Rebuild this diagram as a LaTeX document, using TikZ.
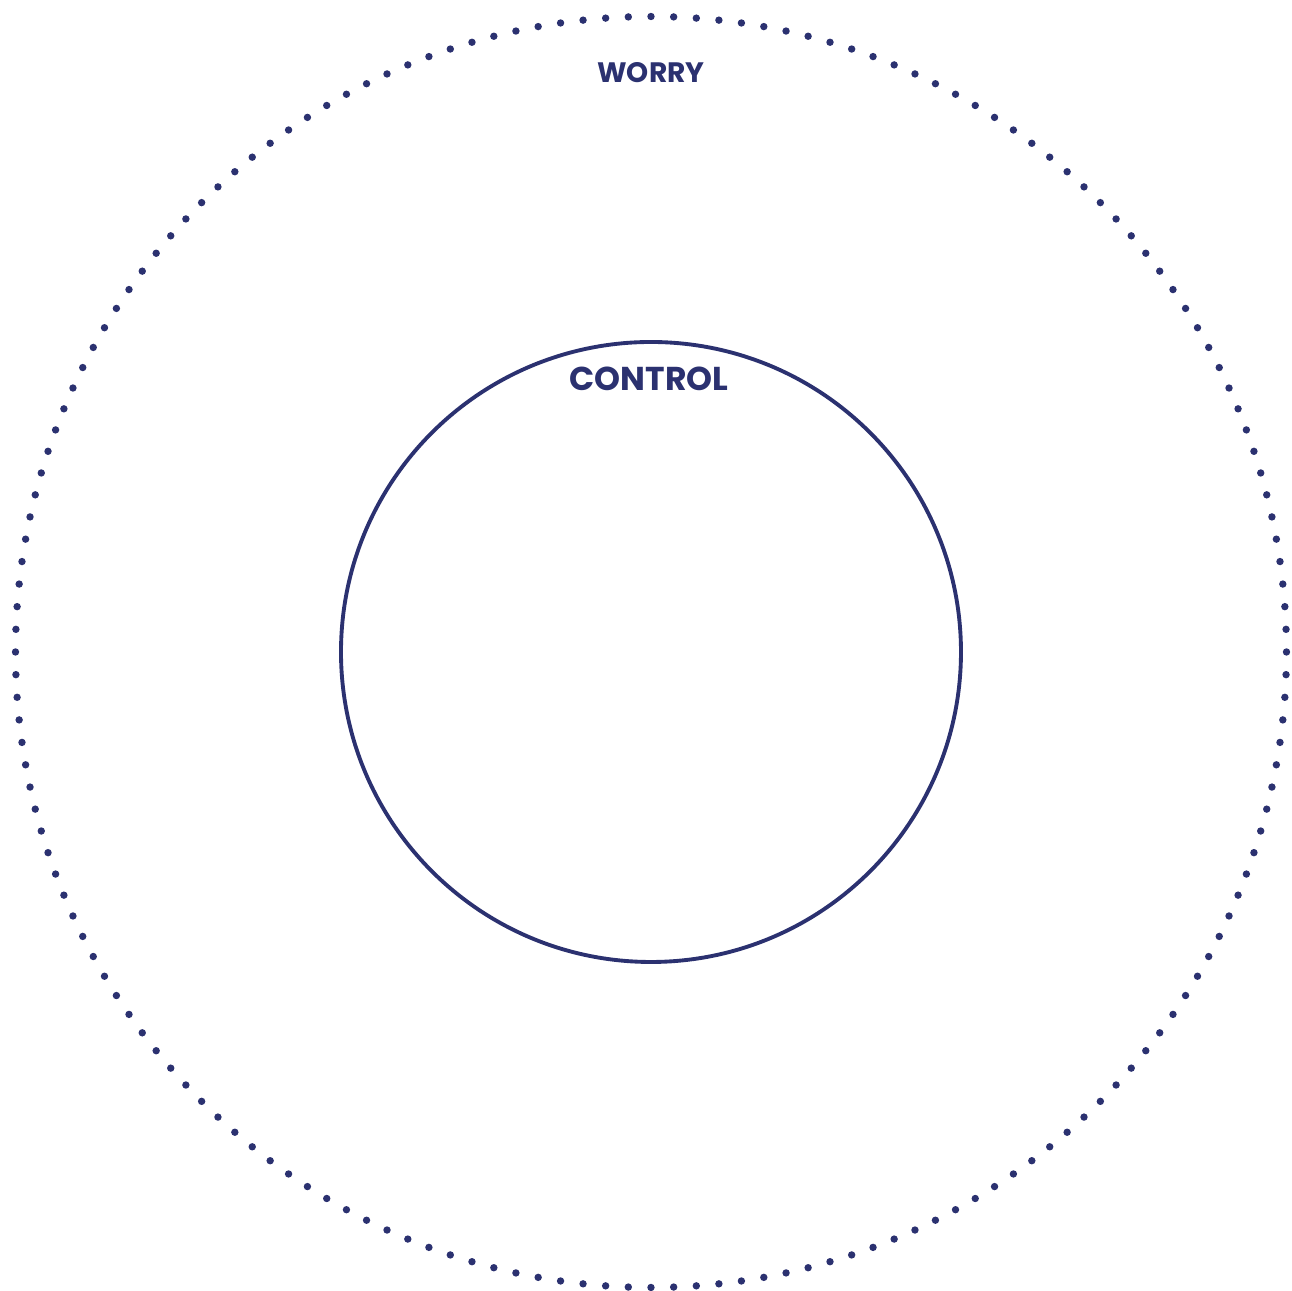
\documentclass[tikz,border=0pt]{standalone}
\usepackage{fontspec}
\setmainfont{Poppins}
\usepackage{tikz}
\usetikzlibrary{positioning, calc}
\definecolor{circlenavy}{RGB}{43, 49, 112}
\tikzset{
    ringlabel/.style={font=\bfseries, text=circlenavy, inner sep=0pt},
    controlring/.style={circle, draw=circlenavy, line width=1.1pt, minimum size=6.2cm, inner sep=0pt},
    worrydot/.style={fill=circlenavy}
}
\begin{document}
\begin{tikzpicture}
    \useasboundingbox (-6.51, -6.39) rectangle (6.41, 6.52);

    % Outer dotted ring
    \foreach \a in {0,...,175} {
        \fill[worrydot] ({\a*2.04545}:6.355) circle (0.037);
    }

    % Inner solid ring
    \node (control ring) [controlring] at (0, 0) {};

    % Labels
    \node (worry) [ringlabel, font=\bfseries\fontsize{8}{9}\selectfont] at (0, 5.79) {WORRY};
    \node (control) [ringlabel, font=\bfseries\fontsize{9.4}{10}\selectfont] at (-0.02, 2.73) {CONTROL};
\end{tikzpicture}
\end{document}
